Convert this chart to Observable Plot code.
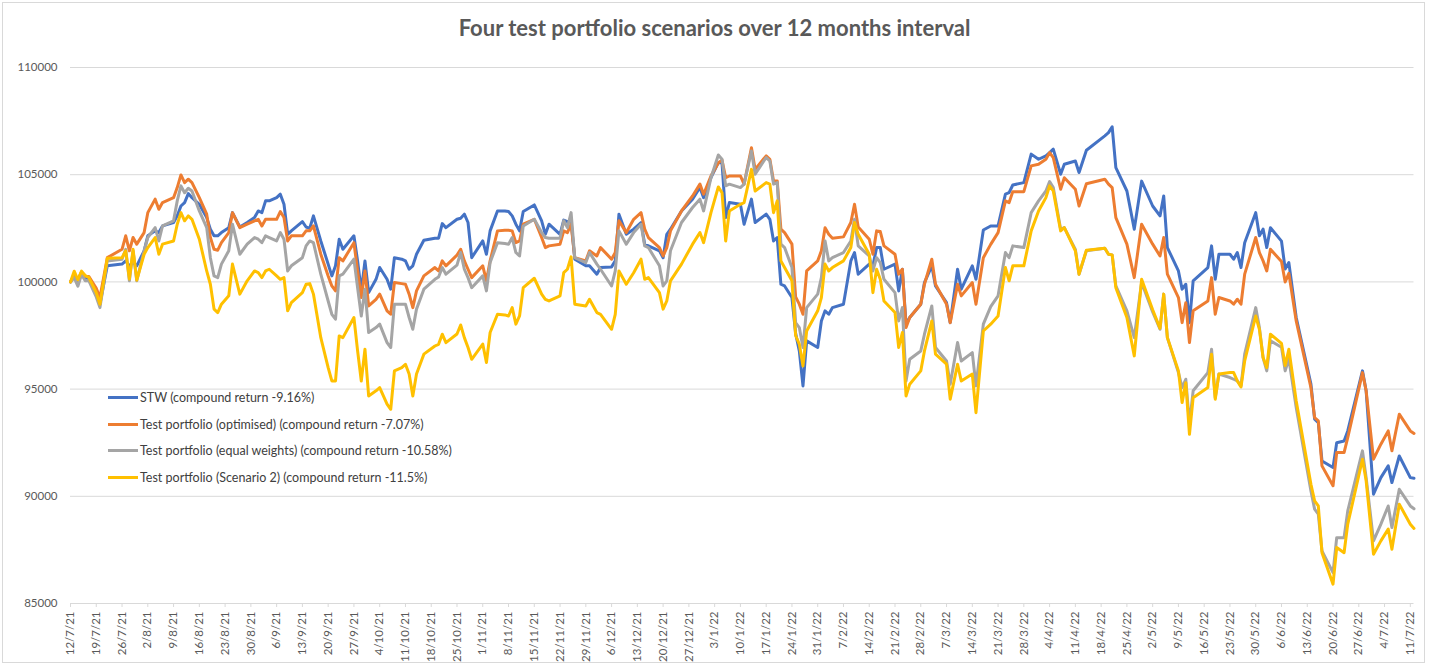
<!DOCTYPE html>
<html>
<head>
<meta charset="utf-8">
<script src="https://cdn.jsdelivr.net/npm/d3@7"></script>
<script src="https://cdn.jsdelivr.net/npm/@observablehq/plot@0.6"></script>
<style>
  body { margin: 0; background: #fff; font-family: Lato, "Liberation Sans", sans-serif; }
  #wrap { position: relative; width: 1429px; height: 667px; overflow: hidden; }
  #frame { position: absolute; left: 2px; top: 2px; width: 1423px; height: 661px; border: 1px solid #d9d9d9; pointer-events: none; box-sizing: border-box; }
  #title { height: 50px; line-height: 56px; text-align: center; font-size: 22px; font-weight: bold; color: #595959; white-space: nowrap; }
  #legend { position: absolute; left: 108px; top: 384px; font-size: 12.5px; color: #404040; }
  .row { display: flex; align-items: center; height: 26.7px; white-space: nowrap; }
  .sw { width: 30px; height: 3px; margin-right: 2px; }
</style>
</head>
<body>
<div id="wrap">
  <div id="title">Four test portfolio scenarios over 12 months interval</div>
  <div id="chart"></div>
  <div id="legend"></div>
  <div id="frame"></div>
</div>
<script>
const dates = [
  "2021-07-12","2021-07-13","2021-07-14","2021-07-15","2021-07-16","2021-07-17","2021-07-19","2021-07-20","2021-07-22","2021-07-26","2021-07-27","2021-07-28","2021-07-29","2021-07-30",
  "2021-08-01","2021-08-02","2021-08-04","2021-08-05","2021-08-06","2021-08-09","2021-08-10","2021-08-11","2021-08-12","2021-08-13","2021-08-14","2021-08-16","2021-08-18","2021-08-19","2021-08-20","2021-08-21","2021-08-22","2021-08-24","2021-08-25","2021-08-27","2021-08-29","2021-08-31",
  "2021-09-01","2021-09-02","2021-09-03","2021-09-04","2021-09-06","2021-09-07","2021-09-08","2021-09-09","2021-09-10","2021-09-13","2021-09-14","2021-09-15","2021-09-16","2021-09-18","2021-09-20","2021-09-21","2021-09-22","2021-09-23","2021-09-24","2021-09-27","2021-09-28","2021-09-29","2021-09-30",
  "2021-10-01","2021-10-03","2021-10-04","2021-10-06","2021-10-07","2021-10-08","2021-10-10","2021-10-11","2021-10-12","2021-10-13","2021-10-14","2021-10-16","2021-10-19","2021-10-20","2021-10-21","2021-10-22","2021-10-25","2021-10-26","2021-10-27","2021-10-28","2021-10-29",
  "2021-11-01","2021-11-02","2021-11-03","2021-11-05","2021-11-07","2021-11-08","2021-11-09","2021-11-10","2021-11-11","2021-11-12","2021-11-15","2021-11-17","2021-11-18","2021-11-19","2021-11-22","2021-11-23","2021-11-24","2021-11-25","2021-11-26","2021-11-29","2021-11-30",
  "2021-12-02","2021-12-03","2021-12-06","2021-12-07","2021-12-08","2021-12-10","2021-12-12","2021-12-14","2021-12-15","2021-12-16","2021-12-19","2021-12-20","2021-12-21","2021-12-22","2021-12-25","2021-12-28","2021-12-30","2021-12-31",
  "2022-01-02","2022-01-04","2022-01-05","2022-01-06","2022-01-07","2022-01-10","2022-01-11","2022-01-13","2022-01-14","2022-01-17","2022-01-18","2022-01-19","2022-01-20","2022-01-21","2022-01-22","2022-01-24","2022-01-25","2022-01-26","2022-01-27","2022-01-28","2022-01-31",
  "2022-02-01","2022-02-02","2022-02-03","2022-02-04","2022-02-07","2022-02-09","2022-02-10","2022-02-11","2022-02-14","2022-02-15","2022-02-16","2022-02-17","2022-02-18","2022-02-21","2022-02-22","2022-02-23","2022-02-24","2022-02-25","2022-02-28",
  "2022-03-01","2022-03-03","2022-03-04","2022-03-07","2022-03-08","2022-03-10","2022-03-11","2022-03-14","2022-03-15","2022-03-17","2022-03-19","2022-03-21","2022-03-23","2022-03-24","2022-03-25","2022-03-28","2022-03-30",
  "2022-04-01","2022-04-03","2022-04-04","2022-04-05","2022-04-07","2022-04-08","2022-04-11","2022-04-12","2022-04-14","2022-04-19","2022-04-20","2022-04-21","2022-04-22","2022-04-25","2022-04-27","2022-04-29",
  "2022-05-02","2022-05-04","2022-05-05","2022-05-06","2022-05-09","2022-05-10","2022-05-11","2022-05-12","2022-05-13","2022-05-17","2022-05-18","2022-05-19","2022-05-20","2022-05-23","2022-05-24","2022-05-25","2022-05-26","2022-05-27","2022-05-30","2022-05-31",
  "2022-06-01","2022-06-02","2022-06-03","2022-06-06","2022-06-07","2022-06-08","2022-06-10","2022-06-14","2022-06-15","2022-06-16","2022-06-17","2022-06-20","2022-06-21","2022-06-23","2022-06-24","2022-06-28","2022-06-29",
  "2022-07-01","2022-07-03","2022-07-05","2022-07-06","2022-07-08","2022-07-11","2022-07-12"
];

const stw = [
  100000,100300,100050,100450,100200,100150,99500,98970,100750,100830,100980,100750,100900,100750,
  101450,102150,102380,102300,102610,102770,103080,103540,103700,104120,103930,103620,103000,102460,102150,102150,102300,102530,103230,102560,102770,103000,
  103310,103230,103780,103780,103930,104090,103620,102220,102380,102810,102560,102500,103080,101910,100830,100280,100750,101990,101520,102150,100980,99580,100980,
  99500,100120,100670,100120,99660,101130,101060,100980,100590,100750,101290,101940,102040,102040,102720,102530,102920,102970,103160,102770,101130,
  101910,101290,102380,103310,103310,103280,103080,102690,102380,103280,103590,102850,102220,102690,102220,102880,102810,102850,101060,100750,100750,
  100360,100670,100700,100980,103160,102220,102460,102770,101760,101680,101450,101130,102220,102460,103310,103860,104400,103930,
  104860,105560,105560,103000,103700,103620,102690,103860,102770,103160,102920,101910,102070,99890,99810,99270,97600,96780,95150,97250,96940,
  98180,98650,98490,98800,98960,100980,101370,100360,100830,100750,101600,101600,100590,100830,99580,100590,98030,98340,98960,
  99970,100750,99810,99030,98100,100590,99660,100750,100120,102420,102610,102610,104090,104160,104520,104630,105960,
  105720,105880,106030,106190,105020,105490,105640,105100,106140,106810,106960,107230,105330,104240,102460,104700,
  103540,103080,104010,101600,100510,99660,99890,98100,100050,100670,101680,100120,101290,101290,101060,101370,100670,101830,103230,102150,
  102460,101600,102530,101900,100600,100900,98340,95230,93600,93440,91650,91340,92500,92580,93050,95850,94920,
  90100,90870,91420,90640,91880,90870,90840
];

const optimised = [
  100000,100300,100100,100450,100250,100250,99700,99270,101130,101520,102150,101450,102070,101760,
  102300,103230,103860,103390,103700,103930,104400,104990,104630,104790,104630,103930,103160,102070,101520,101480,101830,102300,103230,102530,102690,102850,
  102920,102610,102920,102920,102920,103280,103000,101910,102150,102150,102380,102380,102610,101290,100280,99810,99580,101130,100980,101830,100510,99270,100510,
  98880,99190,99430,98650,98490,99970,99920,99890,99430,98800,99580,100280,100670,100510,100980,100750,101250,101520,100980,100590,100200,
  100750,100050,100980,102380,102410,102410,102380,101830,101910,102690,102920,102070,101600,101680,101760,102380,102300,102690,101130,100980,101450,
  101210,101600,101060,101370,102850,102300,102920,103230,102460,102070,101600,101210,101600,102380,103310,104010,104560,104090,
  104940,105560,105680,104860,104940,104940,104560,106260,105250,105880,105720,104710,104710,102460,102300,101760,99300,98960,98490,100510,100980,
  101450,102530,102220,102040,102100,102770,103620,102560,101990,101290,102380,102350,101680,101290,100360,100590,97870,98340,98960,
  99890,101060,99890,98960,98100,99890,99350,99970,98960,101130,101750,102300,103780,103700,104210,104210,105410,
  105490,105720,106030,105800,104320,104860,104320,103540,104580,104790,104560,104400,103000,101760,100200,102690,
  101760,101210,102070,100360,99270,98100,99030,97170,98650,99110,100200,98490,99270,99110,98960,99190,98960,100360,102070,101370,
  100980,100510,101520,100950,100000,100400,98180,95070,93670,93520,91420,90490,92040,92040,92740,95770,94920,
  91730,92430,93050,92120,93830,93050,92930
];

const equalWeights = [
  100000,100200,99800,100350,100050,100050,99300,98800,100980,101060,101520,100050,101450,100050,
  101450,102070,102530,101910,102610,102850,103780,104480,104160,104370,104240,103310,102530,101130,100280,100200,100830,101450,102690,101290,101760,102070,
  101990,101830,102150,102070,101910,102300,101990,100510,100750,101130,101680,101910,101830,100360,99110,98490,98260,100280,100360,101060,99730,98410,99660,
  97640,97870,98030,97170,96940,98960,98960,98960,98340,97790,98730,99660,100120,100230,100670,100360,100780,101370,100590,100200,99730,
  100280,99580,100900,101830,101790,101760,102070,101370,101210,102610,102920,102300,102070,102040,102040,102850,102530,103230,101130,100900,101370,
  100830,100590,99810,100510,102380,101760,102300,102690,101680,101600,100750,99810,100050,101450,102770,103470,103860,103310,
  104860,105920,105720,104480,104560,104400,104560,106110,105020,105800,105640,104560,104630,101760,101600,100670,98100,97870,96940,98800,99430,
  100200,101910,100980,101130,101370,101910,102920,101680,101210,100510,101130,100900,100120,99500,98180,98800,95380,96390,96780,
  97560,98880,96940,96310,95230,97170,96310,96700,95150,98030,98850,99350,101370,101130,101680,101600,103230,
  103780,104240,104680,104400,102460,102530,101520,100360,101450,101570,101290,101260,99810,98650,97400,99970,
  98600,97790,99430,97400,95770,95070,95460,93360,94920,95770,96860,94600,95700,95540,95460,95380,95150,96630,98800,97870,
  96470,95850,97250,96950,95850,96400,94140,90250,89400,89170,87450,86440,88070,88070,89320,92120,90870,
  87920,88700,89550,88540,90330,89550,89420
];

const scenario2 = [
  100000,100500,100100,100500,100300,100200,99500,98960,101100,101130,101450,100130,101520,100080,
  101290,101600,102070,101290,101760,101910,102690,103230,102850,103080,102920,101990,100510,99890,98730,98570,98960,99350,100830,99430,100050,100510,
  100430,100200,100510,100590,100280,100120,100200,98650,99030,99500,99890,99920,99430,97400,96000,95380,95380,97480,97400,98340,96780,95380,96860,
  94680,94920,95070,94300,94060,95850,96000,96160,95700,94680,95700,96630,97010,97090,97560,97170,97570,97990,97400,96940,96390,
  97100,96240,97640,98490,98460,98410,98800,98030,98410,99730,100170,99430,99190,99110,99350,100430,100590,101170,98960,98880,99190,
  98570,98490,97790,98490,100510,99890,100430,101060,100120,100200,99500,98730,99110,100050,100830,101760,102300,101830,
  103230,104430,104160,101910,103310,103620,103700,105250,104240,104630,104560,103230,103780,100980,100670,100050,97500,97100,96080,97710,98650,
  99270,100830,100510,100670,100980,101600,102770,102220,101290,99500,100590,100120,99110,98570,96940,97640,94680,95230,95850,
  96780,98180,96630,96160,94530,96160,95380,95700,93900,97710,98030,98410,100670,100050,100750,100750,102380,
  103310,103930,104480,104240,102380,102530,101450,100360,101480,101570,101290,101260,99730,98340,96550,100120,
  98700,97830,99430,97400,95850,94370,95300,92890,94600,95070,96630,94530,95700,95770,95770,95380,95100,96310,98410,97790,
  96470,96000,97560,97130,96100,96860,94450,90560,89790,89550,87370,85900,87610,87370,88700,91730,90720,
  87300,87920,88470,87530,89630,88700,88500
];

const seriesNames = [
  "STW (compound return -9.16%)",
  "Test portfolio (optimised) (compound return -7.07%)",
  "Test portfolio (equal weights) (compound return -10.58%)",
  "Test portfolio (Scenario 2) (compound return -11.5%)"
];
const seriesValues = [stw, optimised, equalWeights, scenario2];
const colors = ["#4472C4", "#ED7D31", "#A5A5A5", "#FFC000"];
const yTicks = [85000, 90000, 95000, 100000, 105000, 110000];
const xStart = "2021-07-12", xEnd = "2022-07-12", lastTick = "2022-07-11";

const parse = d3.utcParse("%Y-%m-%d");
const data = [];
seriesValues.forEach((vals, i) => {
  vals.forEach((v, j) => data.push({ date: parse(dates[j]), value: v, series: seriesNames[i] }));
});

const weekTicks = d3.utcMonday.range(parse(xStart), d3.utcDay.offset(parse(lastTick), 1));
const fmt = d => `${d.getUTCDate()}/${d.getUTCMonth() + 1}/${String(d.getUTCFullYear()).slice(2)}`;

const chart = Plot.plot({
  width: 1429,
  height: 617,
  marginLeft: 70,
  marginRight: 15.5,
  marginTop: 17,
  marginBottom: 64,
  style: { fontFamily: "Lato, 'Liberation Sans', sans-serif", background: "transparent" },
  x: { type: "utc", domain: [parse(xStart), parse(xEnd)] },
  y: { domain: [85000, 110000] },
  color: { domain: seriesNames, range: colors },
  marks: [
    Plot.gridY(yTicks, { stroke: "#d9d9d9", strokeOpacity: 1, strokeWidth: 1 }),
    Plot.axisY(yTicks, { tickSize: 0, tickPadding: 13, tickFormat: d3.format("d"), fontSize: 11.5, fill: "#595959", label: null }),
    Plot.axisX(weekTicks, { tickRotate: -90, tickSize: 4, tickPadding: 4, stroke: "#d9d9d9", tickFormat: fmt, fontSize: 11.5, fill: "#595959", label: null }),
    Plot.line(data, { x: "date", y: "value", z: "series", stroke: "series", strokeWidth: 3, strokeLinejoin: "round", strokeLinecap: "round" })
  ]
});
document.getElementById("chart").appendChild(chart);

const legend = document.getElementById("legend");
seriesNames.forEach((name, i) => {
  const row = document.createElement("div");
  row.className = "row";
  const sw = document.createElement("div");
  sw.className = "sw";
  sw.style.background = colors[i];
  const label = document.createElement("span");
  label.textContent = name;
  row.appendChild(sw);
  row.appendChild(label);
  legend.appendChild(row);
});
</script>
</body>
</html>
